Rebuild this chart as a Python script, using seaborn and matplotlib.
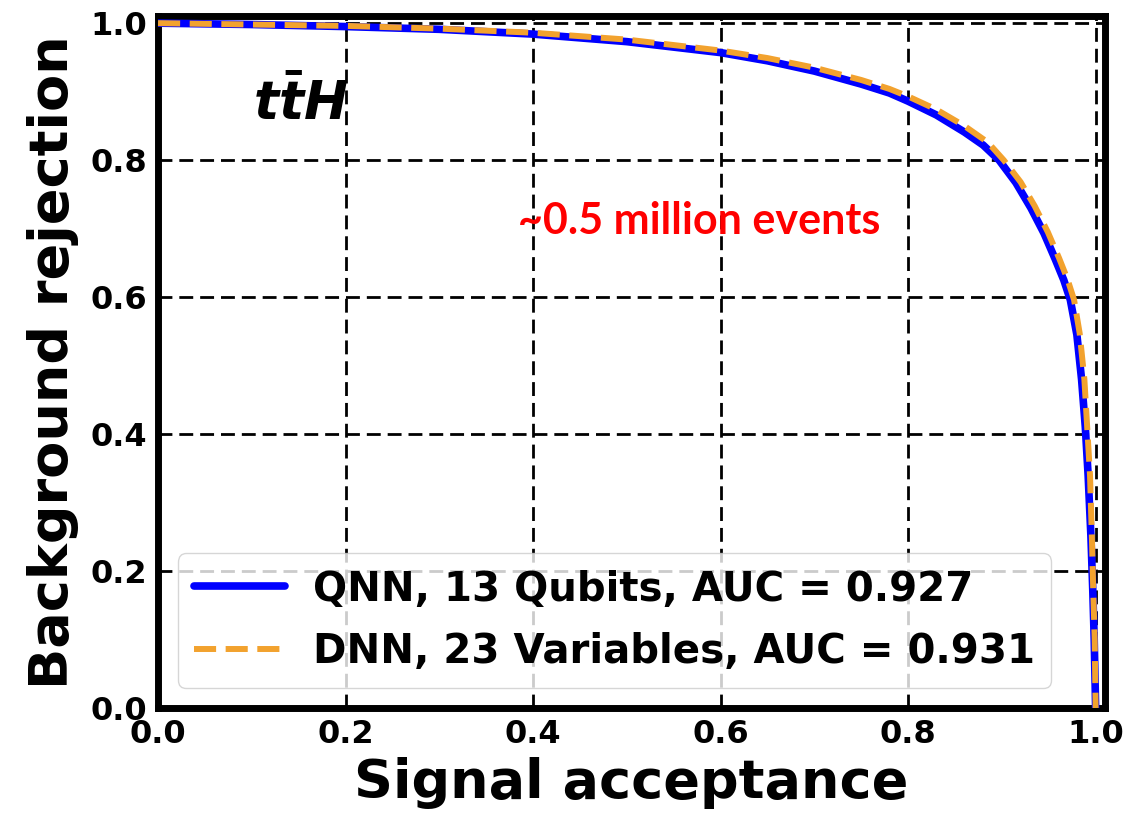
import matplotlib
matplotlib.use("Agg")
import matplotlib.pyplot as plt
import seaborn as sns
import pandas as pd

# ROC curve points (signal acceptance, background rejection)
qnn_sig = [0.0, 0.1, 0.2, 0.3, 0.4, 0.5, 0.6, 0.65, 0.7, 0.75, 0.78, 0.8, 0.83, 0.86,
           0.88, 0.897, 0.915, 0.931, 0.945, 0.957, 0.966, 0.973, 0.980, 0.985, 0.989,
           0.992, 0.995, 0.997, 0.9985, 1.0]
qnn_bkg = [1.0, 0.998, 0.995, 0.991, 0.984, 0.973, 0.957, 0.945, 0.930, 0.911, 0.898, 0.886, 0.866, 0.841,
           0.822, 0.800, 0.767, 0.730, 0.693, 0.655, 0.625, 0.596, 0.545, 0.480, 0.410,
           0.340, 0.250, 0.170, 0.100, 0.0]

dnn_sig = [0.0, 0.1, 0.2, 0.3, 0.4, 0.5, 0.6, 0.65, 0.7, 0.75, 0.78, 0.8, 0.83, 0.86,
           0.885, 0.902, 0.920, 0.935, 0.949, 0.961, 0.970, 0.977, 0.983, 0.988, 0.991,
           0.994, 0.996, 0.9975, 0.999, 1.0]
dnn_bkg = [1.0, 0.998, 0.996, 0.992, 0.986, 0.976, 0.960, 0.949, 0.935, 0.917, 0.904, 0.893, 0.874, 0.850,
           0.826, 0.800, 0.768, 0.733, 0.695, 0.657, 0.626, 0.596, 0.547, 0.480, 0.410,
           0.340, 0.250, 0.170, 0.100, 0.0]

labels = ["QNN, 13 Qubits, AUC = 0.927", "DNN, 23 Variables, AUC = 0.931"]
x_ticks = [0.0, 0.2, 0.4, 0.6, 0.8, 1.0]
y_ticks = [0.0, 0.2, 0.4, 0.6, 0.8, 1.0]

sns.set_style("white")
plt.rcParams['font.family'] = ['DejaVu Sans']
plt.rcParams['text.color'] = 'black'
plt.rcParams['axes.labelcolor'] = 'black'
plt.rcParams['xtick.color'] = 'black'
plt.rcParams['ytick.color'] = 'black'
plt.rcParams['mathtext.fontset'] = 'custom'
plt.rcParams['mathtext.it'] = 'DejaVu Sans:italic:bold'
plt.rcParams['mathtext.rm'] = 'DejaVu Sans:bold'

fig = plt.figure(figsize=(11.24, 8.15), dpi=100)
ax = fig.add_axes([0.1406, 0.1313, 0.8425, 0.8487])

df_q = pd.DataFrame({"sig": qnn_sig, "bkg": qnn_bkg})
df_d = pd.DataFrame({"sig": dnn_sig, "bkg": dnn_bkg})

sns.lineplot(data=df_q, x="sig", y="bkg", ax=ax, color="blue", lw=5.5,
             estimator=None, sort=False, label=labels[0], zorder=3)
sns.lineplot(data=df_d, x="sig", y="bkg", ax=ax, color="#f2a22e", lw=4.3,
             linestyle=(0, (3.7, 1.6)), estimator=None, sort=False, label=labels[1], zorder=4)

ax.set_xlim(0, 1.01)
ax.set_ylim(0, 1.01)
ax.set_xticks(x_ticks)
ax.set_yticks(y_ticks)
ax.set_xticklabels([f"{t:.1f}" for t in x_ticks], fontsize=23, fontweight="bold")
ax.set_yticklabels([f"{t:.1f}" for t in y_ticks], fontsize=23, fontweight="bold")
ax.tick_params(axis="both", direction="out", length=5, width=2, pad=3, colors="black")

ax.grid(True, color="black", linestyle=(0, (5, 2.5)), linewidth=2)
ax.set_axisbelow(True)

for s in ax.spines.values():
    s.set_visible(True)
    s.set_linewidth(5)
    s.set_color("black")

ax.set_xlabel("Signal acceptance", fontsize=39, fontweight="bold", labelpad=5)
ax.set_ylabel("Background rejection", fontsize=39, fontweight="bold", labelpad=8)

ax.text(0.152, 0.882, r"$t\bar{t}H$", fontsize=38, ha="center", va="center")

ax.text(0.577, 0.711, "~0.5 million events", color="red", fontsize=31,
        fontweight="bold", family=["Lato", "DejaVu Sans"], ha="center", va="center")

leg = ax.legend(loc="lower left", prop={"weight": "bold", "size": 29},
                handlelength=2.25, handletextpad=0.7, framealpha=0.8, edgecolor="0.8",
                borderaxespad=0.5, labelspacing=0.55)

fig.savefig("out.png", dpi=100)
